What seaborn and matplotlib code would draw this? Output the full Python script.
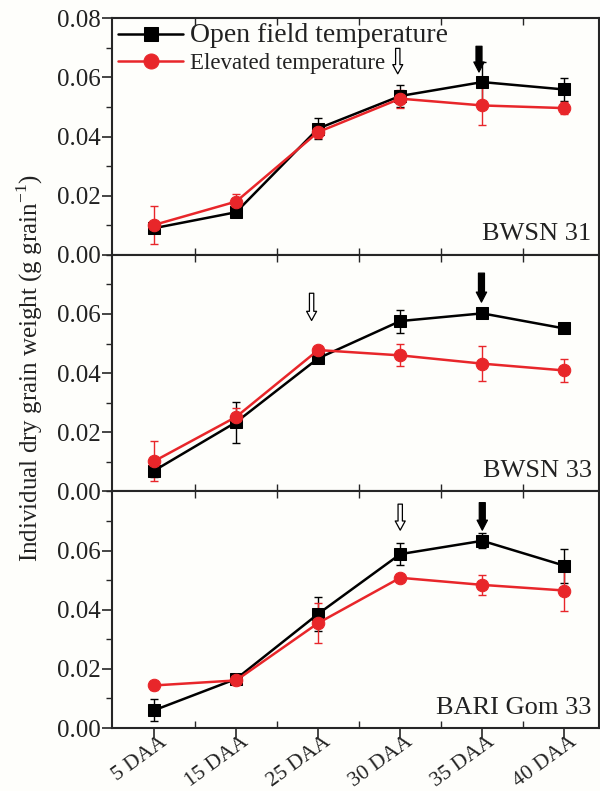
import numpy as np
import matplotlib
matplotlib.use("Agg")
import matplotlib.pyplot as plt
import matplotlib.transforms as mtransforms
import seaborn as sns
from matplotlib.ticker import MultipleLocator, FormatStrFormatter

# --- DATA ---
stages = ["5 DAA", "15 DAA", "25 DAA", "30 DAA", "35 DAA", "40 DAA"]
cultivars = ["BWSN 31", "BWSN 33", "BARI Gom 33"]

open_mean = [
    [0.0090, 0.0144, 0.0427, 0.0537, 0.0584, 0.0559],
    [0.0070, 0.0234, 0.0450, 0.0576, 0.0602, 0.0551],
    [0.0060, 0.0166, 0.0386, 0.0588, 0.0633, 0.0549],
]
open_err = [
    [0.0010, 0.0008, 0.0036, 0.0038, 0.0068, 0.0040],
    [0.0022, 0.0070, 0.0010, 0.0039, 0.0012, 0.0010],
    [0.0037, 0.0012, 0.0058, 0.0038, 0.0025, 0.0057],
]
elev_mean = [
    [0.0101, 0.0180, 0.0415, 0.0528, 0.0505, 0.0496],
    [0.0102, 0.0252, 0.0478, 0.0460, 0.0432, 0.0409],
    [0.0144, 0.0161, 0.0355, 0.0508, 0.0484, 0.0465],
]
elev_err = [
    [0.0064, 0.0024, 0.0020, 0.0030, 0.0065, 0.0021],
    [0.0068, 0.0030, 0.0010, 0.0037, 0.0059, 0.0038],
    [0.0015, 0.0015, 0.0067, 0.0010, 0.0035, 0.0070],
]

# arrow annotations per panel: (x position, tail y, tip y)
hollow_arrows = [(2.97, 0.0698, 0.0612), (1.92, 0.0670, 0.0578), (3.0, 0.0757, 0.0669)]
filled_arrows = [(3.96, 0.0705, 0.0618), (3.99, 0.0738, 0.0640), (4.0, 0.0762, 0.0669)]

sns.set_theme(style="ticks")
plt.rcParams["font.family"] = ["Liberation Serif", "DejaVu Serif"]
plt.rcParams["mathtext.fontset"] = "custom"
plt.rcParams["mathtext.rm"] = "Liberation Serif"

bg = "#fefefb"
fig = plt.figure(figsize=(6, 7.91), dpi=100, facecolor=bg)
gs = fig.add_gridspec(3, 1, left=0.187, right=0.998, top=0.977, bottom=0.0796, hspace=0)
axes = [fig.add_subplot(gs[i]) for i in range(3)]

x = np.arange(len(stages))
red = "#e8262a"

for i, ax in enumerate(axes):
    ax.set_facecolor(bg)
    sns.lineplot(x=x, y=open_mean[i], ax=ax, color="black", marker="s", markersize=8,
                 linewidth=1.8, markeredgecolor="black", label="Open field temperature", zorder=3)
    ax.errorbar(x, open_mean[i], yerr=open_err[i], fmt="none", ecolor="black",
                elinewidth=1, capsize=3, zorder=2)
    sns.lineplot(x=x, y=elev_mean[i], ax=ax, color=red, marker="o", markersize=9,
                 linewidth=1.8, markeredgecolor=red, label="Elevated temperature", zorder=4)
    ax.errorbar(x, elev_mean[i], yerr=elev_err[i], fmt="none", ecolor=red,
                elinewidth=1, capsize=3, zorder=2)

    hx, hy0, hy1 = hollow_arrows[i]
    ax.annotate("", xy=(hx, hy1), xytext=(hx, hy0),
                arrowprops=dict(arrowstyle="simple,head_width=0.6,head_length=0.55,tail_width=0.26",
                                mutation_scale=12, fc="white", ec="black", lw=0.9,
                                shrinkA=0, shrinkB=0))
    fx, fy0, fy1 = filled_arrows[i]
    ax.annotate("", xy=(fx, fy1), xytext=(fx, fy0),
                arrowprops=dict(arrowstyle="simple,head_width=0.62,head_length=0.6,tail_width=0.36",
                                mutation_scale=12, fc="black", ec="black", lw=0.9,
                                shrinkA=0, shrinkB=0))

    ax.text(0.985, 0.04, cultivars[i], transform=ax.transAxes, ha="right", va="bottom",
            fontsize=19, color="#222222")

    ax.set_xlim(-0.51, 5.42)
    ax.set_ylim(0, 0.08)
    ax.yaxis.set_major_locator(MultipleLocator(0.02))
    ax.yaxis.set_minor_locator(MultipleLocator(0.01))
    ax.yaxis.set_major_formatter(FormatStrFormatter("%.2f"))
    ax.set_xticks(x)
    ax.set_xticks(x[:-1] + 0.5, minor=True)
    ax.tick_params(axis="y", which="major", direction="out", length=7, width=1.2,
                   labelsize=18, pad=1, labelcolor="#222222")
    ax.tick_params(axis="y", which="minor", direction="out", length=4, width=1.0)
    ax.tick_params(axis="x", which="minor", direction="in", length=5, width=1.0, top=True, bottom=True)
    ax.tick_params(axis="x", which="major", direction="out", length=7, width=1.2,
                   labelsize=15.5, pad=0, labelcolor="#222222")
    for s in ax.spines.values():
        s.set_linewidth(1.5)
        s.set_visible(True)
    ax.set_ylabel("")

    if i < 2:
        ax.tick_params(axis="x", which="major", length=0, labelbottom=False)
    if i > 0:
        ax.set_yticks([0.0, 0.02, 0.04, 0.06])
        ax.get_legend().remove()

axes[2].set_xticklabels(stages, rotation=36, ha="right", va="top", rotation_mode="anchor")
shift = mtransforms.ScaledTranslation(5 / 100, 5 / 100, fig.dpi_scale_trans)
for lab in axes[2].get_xticklabels():
    lab.set_transform(lab.get_transform() + shift)

leg = axes[0].legend(loc="upper left", frameon=False, borderaxespad=0.0, borderpad=0.0,
                     handlelength=2.75, handletextpad=0.3, labelspacing=0.2,
                     bbox_to_anchor=(0.012, 0.98), markerscale=1.2, fontsize=17)
texts = leg.get_texts()
texts[0].set_fontsize(20)
texts[1].set_fontsize(16.5)
for t in texts:
    t.set_color("#222222")

fig.text(0.05, 0.535, "Individual dry grain weight (g grain$^{-1}$)", rotation=90,
         ha="center", va="center", fontsize=18, color="#222222")

plt.savefig("out.png", dpi=100, facecolor=bg)
